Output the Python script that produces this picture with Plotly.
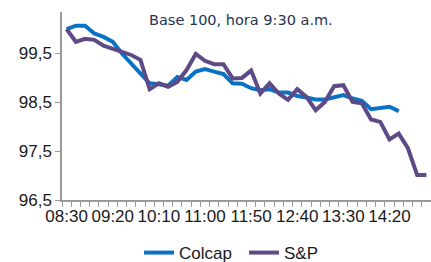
import plotly.graph_objects as go

times = ["08:30","08:40","08:50","09:00","09:10","09:20","09:30","09:40","09:50","10:00",
         "10:10","10:20","10:30","10:40","10:50","11:00","11:10","11:20","11:30","11:40",
         "11:50","12:00","12:10","12:20","12:30","12:40","12:50","13:00","13:10","13:20",
         "13:30","13:40","13:50","14:00","14:10","14:20","14:30","14:40","14:50","15:00"]

colcap = [100.0, 100.07, 100.07, 99.91, 99.84, 99.74, 99.5, 99.3, 99.1, 98.89,
          98.87, 98.84, 99.02, 98.96, 99.13, 99.18, 99.13, 99.08, 98.89, 98.88,
          98.79, 98.75, 98.77, 98.7, 98.7, 98.63, 98.6, 98.56, 98.56, 98.6,
          98.65, 98.58, 98.53, 98.36, 98.38, 98.41, 98.32]

sp = [100.0, 99.74, 99.8, 99.78, 99.66, 99.59, 99.54, 99.47, 99.37, 98.77,
      98.89, 98.82, 98.92, 99.16, 99.49, 99.35, 99.28, 99.28, 98.99, 99.0,
      99.15, 98.68, 98.89, 98.68, 98.55, 98.77, 98.61, 98.34, 98.51, 98.83,
      98.85, 98.51, 98.48, 98.15, 98.1, 97.74, 97.86, 97.56, 97.01, 97.01]

y_ticks = [96.5, 97.5, 98.5, 99.5]
label_every = 5

idx = list(range(len(times)))
fig = go.Figure()
fig.add_trace(go.Scatter(x=idx[:len(colcap)], y=colcap, mode="lines", name="Colcap",
                         line=dict(color="#0A72C4", width=4), cliponaxis=False))
fig.add_trace(go.Scatter(x=idx[:len(sp)], y=sp, mode="lines", name="S&P",
                         line=dict(color="#5E4A86", width=4), cliponaxis=False))

font_main = "Liberation Sans, Arial, sans-serif"
fig.update_layout(
    width=431, height=262,
    margin=dict(l=62, r=0, t=12, b=62, autoexpand=False),
    paper_bgcolor="white", plot_bgcolor="white",
    separators=",.",
    font=dict(family=font_main, size=17, color="#1a1a1a"),
    showlegend=True,
    legend=dict(orientation="h", x=0.2087, xanchor="left", y=-0.282, yanchor="middle",
                font=dict(size=17, color="#1a1a1a"), entrywidth=60, entrywidthmode="pixels",
                tracegroupgap=0, borderwidth=0, bgcolor="rgba(0,0,0,0)"),
    annotations=[dict(text="Base 100, hora 9:30 a.m.", xref="paper", yref="paper",
                      x=0.485, y=0.955, xanchor="center", yanchor="middle", showarrow=False,
                      font=dict(family="DejaVu Sans, Verdana, sans-serif", size=14.5, color="#243552"))],
)
fig.update_xaxes(
    range=[-0.5, len(times) - 0.5],
    automargin=False,
    tickmode="array",
    tickvals=idx[::label_every],
    ticktext=times[::label_every],
    ticks="",
    showgrid=False, zeroline=False,
    showline=True, linecolor="#9a9a9a", linewidth=1.5,
    minor=dict(tickmode="linear", tick0=-0.5, dtick=1, ticks="outside", ticklen=5,
               tickcolor="#9a9a9a", tickwidth=1, showgrid=False),
    tickfont=dict(size=17),
)
fig.update_yaxes(
    range=[96.5, 100.35],
    automargin=False,
    tickmode="array",
    tickvals=y_ticks,
    tickformat=".1f",
    ticks="outside", ticklen=5, tickcolor="#9a9a9a", tickwidth=1,
    showgrid=False, zeroline=False,
    showline=True, linecolor="#9a9a9a", linewidth=1.5,
    tickfont=dict(size=17),
)
fig.write_html("out.html", config={"displayModeBar": False},
               post_script="document.body.style.margin='0';document.body.style.overflow='hidden';")
